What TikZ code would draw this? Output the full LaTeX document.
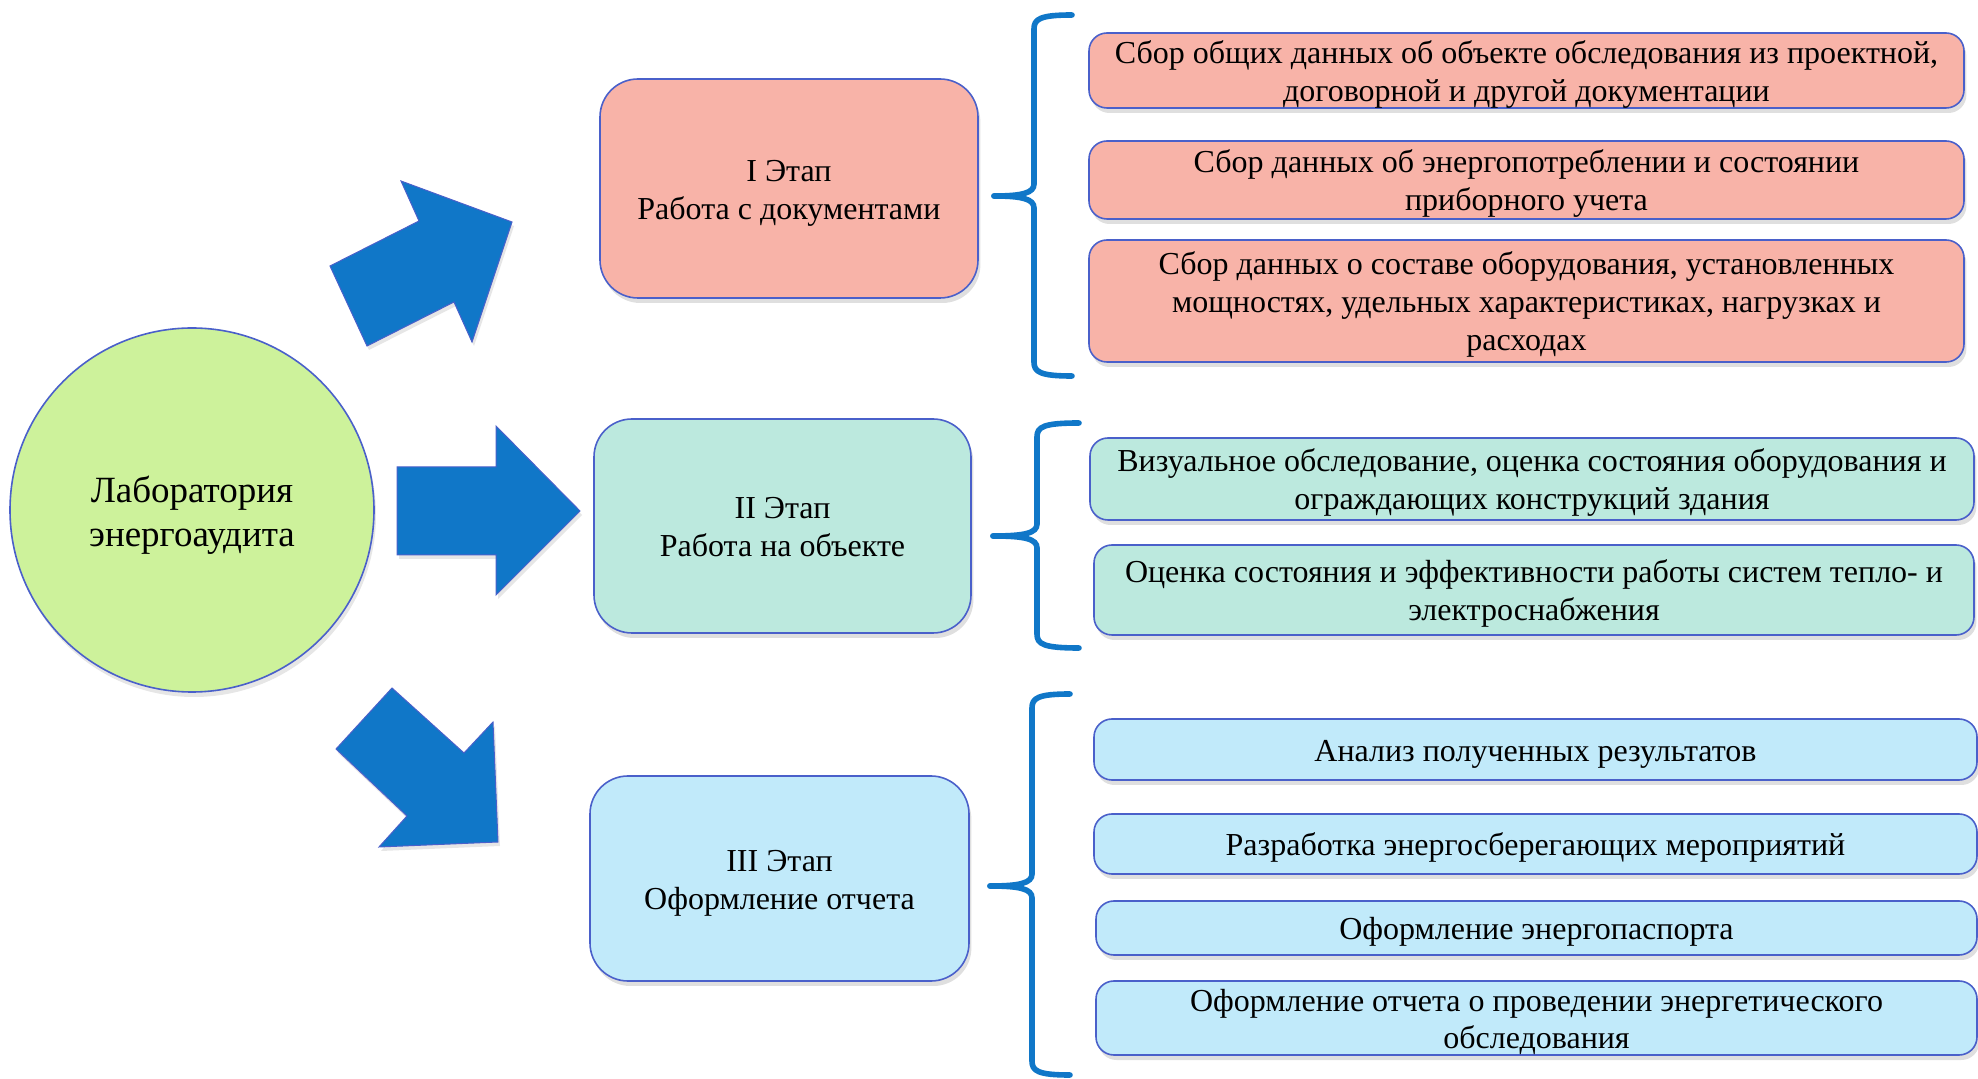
\documentclass[tikz,border=0pt]{standalone}
\usepackage{fontspec}
\setmainfont{Liberation Serif}
\usetikzlibrary{shadows}

\definecolor{labgreen}{RGB}{205,242,155}
\definecolor{salmon}{RGB}{248,179,168}
\definecolor{mint}{RGB}{188,233,222}
\definecolor{sky}{RGB}{193,234,250}
\definecolor{arrowblue}{RGB}{16,119,200}
\definecolor{edgeblue}{RGB}{74,96,202}

\tikzset{
  boxtext/.style={font=\fontsize{16}{19}\selectfont},
  stagebox/.style={boxtext, draw=edgeblue, line width=0.8pt, rounded corners=19pt,
    inner sep=1pt, drop shadow={opacity=0.25, shadow xshift=1.2pt, shadow yshift=-2.5pt}},
  itembox/.style={boxtext, draw=edgeblue, line width=0.8pt, rounded corners=9pt,
    inner sep=1pt, drop shadow={opacity=0.25, shadow xshift=1.2pt, shadow yshift=-2.5pt}},
  bigarrow/.style={fill=arrowblue, draw=edgeblue, line width=0.5pt,
    drop shadow={opacity=0.2, shadow xshift=1pt, shadow yshift=-2pt}},
  bracestyle/.style={draw=arrowblue, line width=2.8pt, line cap=round}
}

% centred lines, set a little lower than the box centre
\newcommand{\lowtext}[2][2.2pt]{\raisebox{-#1}[\dimexpr\height-1.6pt][\dimexpr\depth-1.6pt]{\begin{tabular}{@{}c@{}}#2\end{tabular}}}

% #1 end x, #2 spine x, #3 top y, #4 tip x, #5 tip y, #6 bottom y
\newcommand{\phasebrace}[6]{%
  \draw[bracestyle] (#1,#3) .. controls (#2+6,#3) and (#2,#3+4) .. (#2,#3+14)
    -- (#2,#5-12) .. controls (#2,#5-3) and (#2-12,#5) .. (#4,#5);
  \draw[bracestyle] (#4,#5) .. controls (#2-12,#5) and (#2,#5+3) .. (#2,#5+12)
    -- (#2,#6-14) .. controls (#2,#6-4) and (#2+6,#6) .. (#1,#6);
}

\begin{document}
\begin{tikzpicture}[x=0.5pt,y=-0.5pt]
\useasboundingbox (0,0) rectangle (1978,1079);

% center
\node[circle, draw=edgeblue, line width=0.8pt, fill=labgreen, minimum size=182pt,
  font=\fontsize{18.5}{22}\selectfont,
  drop shadow={opacity=0.2, shadow xshift=1pt, shadow yshift=-2.5pt}] (lab) at (192,510)
  {\lowtext[3pt]{Лаборатория\\энергоаудита}};

% arrows
\draw[bigarrow] (330,266) -- (367,346) -- (454,302) -- (472,342) -- (512,222)
  -- (401,181) -- (419,221) -- cycle;
\draw[bigarrow] (397,467) -- (496,467) -- (496,426) -- (580,511) -- (496,595)
  -- (496,555) -- (397,555) -- cycle;
\draw[bigarrow] (336,749) -- (392,688) -- (464,753) -- (493,722) -- (498,842)
  -- (379,847) -- (407,816) -- cycle;

% stages
\node[stagebox, fill=salmon, minimum width=189pt, minimum height=109.5pt] (st1) at (789,188.5)
  {\lowtext{I Этап\\Работа с документами}};
\node[stagebox, fill=mint, minimum width=188.5pt, minimum height=107pt] (st2) at (782.5,526)
  {\lowtext{II Этап\\Работа на объекте}};
\node[stagebox, fill=sky, minimum width=189.5pt, minimum height=102.5pt] (st3) at (779.5,878.5)
  {\lowtext{III Этап\\Оформление отчета}};

% braces
\phasebrace{1072}{1034}{15}{994}{196}{376}
\phasebrace{1079}{1037}{423}{993}{536}{648}
\phasebrace{1070}{1032}{694}{990}{886}{1075}

% stage I items
\node[itembox, fill=salmon, minimum width=437.5pt, minimum height=37.5pt] (a1) at (1526.5,70.5)
  {\lowtext{Сбор общих данных об объекте обследования из проектной,\\договорной и другой документации}};
\node[itembox, fill=salmon, minimum width=437.5pt, minimum height=39pt] (a2) at (1526.5,180)
  {\lowtext{Сбор данных об энергопотреблении и состоянии\\приборного учета}};
\node[itembox, fill=salmon, minimum width=437.5pt, minimum height=61pt] (a3) at (1526.5,301)
  {\lowtext{Сбор данных о составе оборудования, установленных\\мощностях, удельных характеристиках, нагрузках и\\расходах}};

% stage II items
\node[itembox, fill=mint, minimum width=442pt, minimum height=41pt] (b1) at (1532,479)
  {\lowtext{Визуальное обследование, оценка состояния оборудования и\\ограждающих конструкций здания}};
\node[itembox, fill=mint, minimum width=440pt, minimum height=45pt] (b2) at (1534,590)
  {\lowtext{Оценка состояния и эффективности работы систем тепло- и\\электроснабжения}};

% stage III items
\node[itembox, fill=sky, minimum width=441.5pt, minimum height=30.5pt] (c1) at (1535.5,749.5)
  {\lowtext{Анализ полученных результатов}};
\node[itembox, fill=sky, minimum width=441.5pt, minimum height=30pt] (c2) at (1535.5,844)
  {\lowtext{Разработка энергосберегающих мероприятий}};
\node[itembox, fill=sky, minimum width=440.5pt, minimum height=27pt] (c3) at (1536.5,928)
  {\lowtext{Оформление энергопаспорта}};
\node[itembox, fill=sky, minimum width=440.5pt, minimum height=37pt] (c4) at (1536.5,1018)
  {\lowtext{Оформление отчета о проведении энергетического\\обследования}};
\end{tikzpicture}
\end{document}
